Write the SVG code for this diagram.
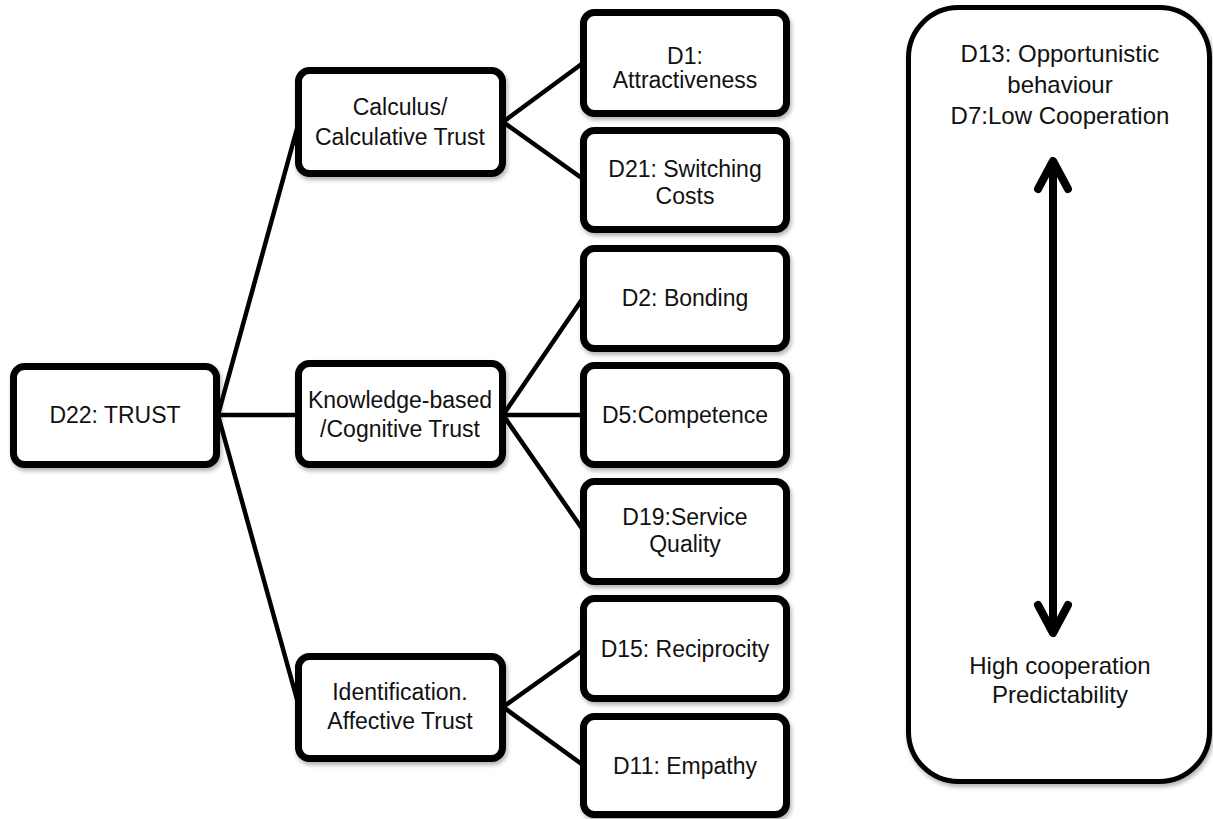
<svg xmlns="http://www.w3.org/2000/svg" width="1213" height="819" viewBox="0 0 1213 819">
<style>
.box{fill:#fff;stroke:#000;stroke-width:7;filter:url(#sh)}
.conn line{stroke:#000;stroke-width:4.5;stroke-linecap:round}
text{font-family:"Liberation Sans",Arial,sans-serif;font-size:23px;fill:#111;text-anchor:middle}
.big{font-size:24px}
.panel{fill:#fff;stroke:#000;stroke-width:5;filter:url(#sh)}
.arrow{stroke:#000;stroke-width:8;fill:none}
</style>
<defs>
<filter id="sh" x="-10%" y="-10%" width="130%" height="130%">
<feDropShadow dx="1.5" dy="3" stdDeviation="2" flood-color="#000" flood-opacity="0.3"/>
</filter>
<marker id="head" viewBox="-34 -20 40 40" refX="0" refY="0" markerWidth="40" markerHeight="40" markerUnits="userSpaceOnUse" orient="auto-start-reverse" overflow="visible">
<path d="M-28,-15 L0,0 L-28,15" fill="none" stroke="#000" stroke-width="8" stroke-linecap="round" stroke-linejoin="round"/>
</marker>
</defs>
<rect width="1213" height="819" fill="#fff"/>
<g id="connectors" class="conn">
<line x1="218" y1="415" x2="298" y2="125"/>
<line x1="218" y1="415" x2="298" y2="415"/>
<line x1="218" y1="415" x2="298" y2="703"/>
<line x1="503" y1="122" x2="583" y2="63"/>
<line x1="503" y1="122" x2="583" y2="179"/>
<line x1="503" y1="415" x2="583" y2="298"/>
<line x1="503" y1="415" x2="583" y2="415"/>
<line x1="503" y1="415" x2="583" y2="530"/>
<line x1="503" y1="707" x2="583" y2="650"/>
<line x1="503" y1="707" x2="583" y2="765"/>
</g>
<g id="n-d22"><rect class="box" x="13.5" y="366.5" width="203" height="98" rx="11"/><text x="115" y="423">D22: TRUST</text></g>
<g id="n-calculus"><rect class="box" x="298.5" y="70.5" width="204" height="103" rx="11"/><text x="400" y="115">Calculus/</text><text x="400" y="145">Calculative Trust</text></g>
<g id="n-knowledge"><rect class="box" x="298.5" y="363.5" width="204" height="101" rx="11"/><text x="400" y="408">Knowledge-based</text><text x="400" y="437">/Cognitive Trust</text></g>
<g id="n-identification"><rect class="box" x="298.5" y="656.5" width="204" height="102" rx="11"/><text x="400" y="700">Identification.</text><text x="400" y="729">Affective Trust</text></g>
<g id="n-d1"><rect class="box" x="583.5" y="12.5" width="203" height="101" rx="11"/><text x="685" y="64">D1:</text><text x="685" y="88">Attractiveness</text></g>
<g id="n-d21"><rect class="box" x="583.5" y="130.5" width="203" height="99" rx="11"/><text x="685" y="177">D21: Switching</text><text x="685" y="204">Costs</text></g>
<g id="n-d2"><rect class="box" x="583.5" y="248.5" width="203" height="100" rx="11"/><text x="685" y="306">D2: Bonding</text></g>
<g id="n-d5"><rect class="box" x="583.5" y="365.5" width="203" height="99" rx="11"/><text x="685" y="423">D5:Competence</text></g>
<g id="n-d19"><rect class="box" x="583.5" y="481.5" width="203" height="100" rx="11"/><text x="685" y="525">D19:Service</text><text x="685" y="552">Quality</text></g>
<g id="n-d15"><rect class="box" x="583.5" y="598.5" width="203" height="100" rx="11"/><text x="685" y="657">D15: Reciprocity</text></g>
<g id="n-d11"><rect class="box" x="583.5" y="716.5" width="203" height="98" rx="11"/><text x="685" y="774">D11: Empathy</text></g>
<g id="n-panel">
<rect class="panel" x="908.5" y="7.5" width="301" height="774" rx="50"/>
<text class="big" x="1060" y="62">D13: Opportunistic</text>
<text class="big" x="1060" y="93">behaviour</text>
<text class="big" x="1060" y="124">D7:Low Cooperation</text>
<path class="arrow" d="M1053,161 L1053,633" marker-start="url(#head)" marker-end="url(#head)"/>
<text class="big" x="1060" y="674">High cooperation</text>
<text class="big" x="1060" y="703">Predictability</text>
</g>
</svg>
